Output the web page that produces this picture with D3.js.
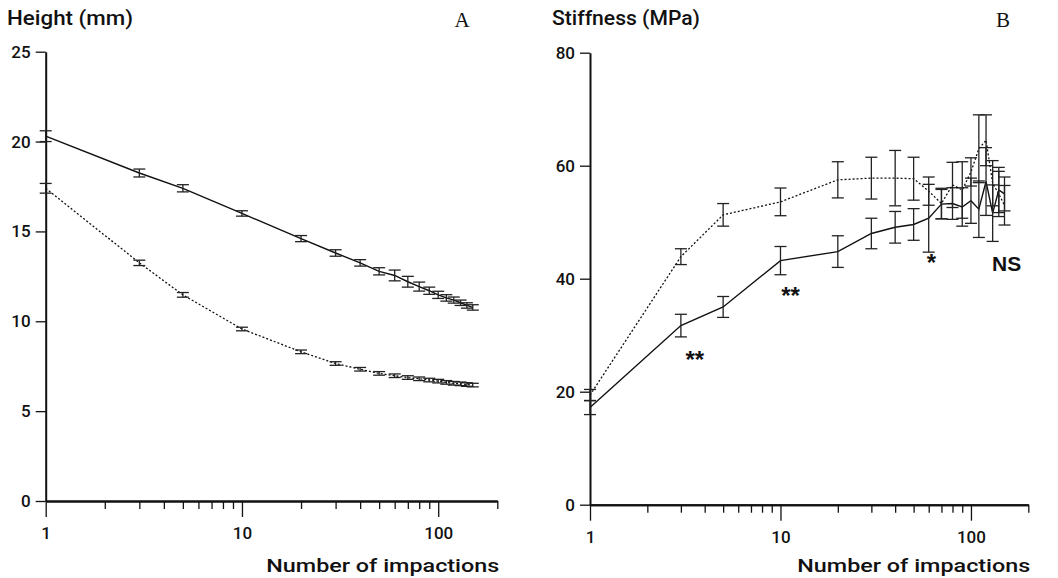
<!DOCTYPE html>
<html>
<head>
<meta charset="utf-8">
<script src="https://cdn.jsdelivr.net/npm/d3@7"></script>
<style>
  body { margin: 0; background: #fff; }
  svg { display: block; }
  text { font-family: Roboto, "Liberation Sans", Arial, sans-serif; fill: #111; }
</style>
</head>
<body>
<svg width="1058" height="578"></svg>
<script>
// impaction counts (shared by both panels)
const impactions = [1, 3, 5, 10, 20, 30, 40, 50, 60, 70, 80, 90, 100, 110, 120, 130, 140, 150];

// panel A: height (mm)
const heightSolid = [20.3, 18.25, 17.4, 16.0, 14.6, 13.8, 13.25, 12.78, 12.55, 12.2, 11.93, 11.7, 11.47, 11.3, 11.18, 11.03, 10.88, 10.77];
const heightSolidErr = [0.3, 0.22, 0.2, 0.15, 0.17, 0.18, 0.18, 0.2, 0.3, 0.3, 0.25, 0.2, 0.2, 0.18, 0.17, 0.15, 0.15, 0.15];
const heightDotted = [17.4, 13.25, 11.47, 9.57, 8.3, 7.65, 7.33, 7.1, 6.97, 6.87, 6.8, 6.73, 6.67, 6.6, 6.55, 6.52, 6.48, 6.45];
const heightDottedErr = [0.27, 0.15, 0.13, 0.1, 0.1, 0.1, 0.1, 0.1, 0.1, 0.1, 0.1, 0.1, 0.1, 0.1, 0.1, 0.1, 0.1, 0.1];

// panel B: stiffness (MPa)
const stiffSolid = [17.2, 31.7, 35.0, 43.2, 44.8, 48.0, 49.1, 49.6, 50.7, 53.2, 53.3, 52.7, 53.8, 52.3, 57.2, 51.6, 55.7, 55.0];
const stiffSolidErr = [1.25, 2.0, 1.85, 2.5, 2.8, 2.7, 2.8, 2.8, 6.0, 2.6, 2.8, 3.4, 4.0, 5.0, 6.0, 5.0, 4.0, 3.0];
const stiffDotted = [19.4, 43.9, 51.3, 53.6, 57.5, 57.8, 57.8, 57.7, 55.5, 53.3, 56.6, 55.7, 58.9, 63.0, 64.5, 56.9, 55.0, 53.0];
const stiffDottedErr = [1.0, 1.4, 2.0, 2.45, 3.2, 3.7, 4.9, 3.8, 2.5, 2.7, 4.0, 5.0, 2.5, 6.0, 4.5, 4.0, 4.0, 3.5];

const heightTicks = [0, 5, 10, 15, 20, 25];
const stiffTicks = [0, 20, 40, 60, 80];
const majorX = [1, 10, 100];
const minorX = [2, 3, 4, 5, 6, 7, 8, 9, 20, 30, 40, 50, 60, 70, 80, 90, 200];

// significance marks on panel B: [impactions, MPa, label]
const marks = [[3.55, 24.2, '**'], [11.3, 35.5, '**'], [62, 41.3, '*'], [154, 41.3, 'NS']];

const svg = d3.select('svg');

function panel(opts) {
  const x = d3.scaleLog().domain([1, 200]).range(opts.xr);
  const y = d3.scaleLinear().domain(opts.yd).range(opts.yr);
  const g = svg.append('g');

  const minor = g.append('g')
    .attr('transform', `translate(0,${opts.yr[0]})`)
    .call(d3.axisBottom(x).tickValues(minorX).tickSize(8).tickFormat('').tickSizeOuter(0));
  const major = g.append('g')
    .attr('transform', `translate(0,${opts.yr[0]})`)
    .call(d3.axisBottom(x).tickValues(majorX).tickSize(16).tickPadding(10)
      .tickFormat(d3.format('d')).tickSizeOuter(0));
  const left = g.append('g')
    .attr('transform', `translate(${opts.xr[0]},0)`)
    .call(d3.axisLeft(y).tickValues(opts.yt).tickSize(10).tickPadding(5).tickSizeOuter(0));

  [minor, major, left].forEach(a => {
    a.selectAll('.tick line').attr('stroke', '#111').attr('stroke-width', 1.3);
    a.select('.domain').attr('stroke', '#111').attr('stroke-width', 2);
    a.selectAll('text').style('font-size', '17px').style('font-weight', 500).attr('fill', '#111');
  });

  const line = d3.line().x(d => x(d[0])).y(d => y(d[1]));

  opts.series.forEach(s => {
    const pts = impactions.map((v, i) => [v, s.values[i], s.err[i]]);
    g.append('path')
      .datum(pts)
      .attr('d', line)
      .attr('fill', 'none')
      .attr('stroke', '#111')
      .attr('stroke-width', s.dotted ? 1.3 : 1.4)
      .attr('stroke-dasharray', s.dotted ? '2,2' : null);

    const bars = g.append('g').selectAll('g').data(pts).join('g')
      .attr('stroke', '#222').attr('stroke-width', 1.3);
    bars.append('line')
      .attr('x1', d => x(d[0])).attr('x2', d => x(d[0]))
      .attr('y1', d => y(d[1] - d[2])).attr('y2', d => y(d[1] + d[2]));
    bars.append('line')
      .attr('x1', d => x(d[0]) - 6).attr('x2', d => x(d[0]) + 6)
      .attr('y1', d => y(d[1] + d[2])).attr('y2', d => y(d[1] + d[2]));
    bars.append('line')
      .attr('x1', d => x(d[0]) - 6).attr('x2', d => x(d[0]) + 6)
      .attr('y1', d => y(d[1] - d[2])).attr('y2', d => y(d[1] - d[2]));
  });

  g.append('text')
    .attr('x', opts.titleX).attr('y', 25)
    .attr('textLength', opts.titleW).attr('lengthAdjust', 'spacingAndGlyphs')
    .style('font-size', '20px').style('font-weight', 500)
    .text(opts.title);

  g.append('text')
    .attr('x', opts.letterX).attr('y', 27)
    .attr('text-anchor', 'middle')
    .style('font-family', '"Liberation Serif", "Times New Roman", serif')
    .style('font-size', '21px')
    .text(opts.letter);

  g.append('text')
    .attr('x', opts.xr[1] + 2).attr('y', 572)
    .attr('text-anchor', 'end')
    .attr('textLength', 233).attr('lengthAdjust', 'spacingAndGlyphs')
    .style('font-size', '19px').style('font-weight', 500)
    .text('Number of impactions');

  return { g, x, y };
}

panel({
  xr: [45.7, 497.3], yr: [501, 51.7], yd: [0, 25], yt: heightTicks,
  title: 'Height (mm)', titleX: 7, titleW: 126, letter: 'A', letterX: 462,
  series: [
    { values: heightSolid, err: heightSolidErr, dotted: false },
    { values: heightDotted, err: heightDottedErr, dotted: true }
  ]
});

const b = panel({
  xr: [590, 1028.3], yr: [504.7, 52.7], yd: [0, 80], yt: stiffTicks,
  title: 'Stiffness (MPa)', titleX: 552, titleW: 148, letter: 'B', letterX: 1003,
  series: [
    { values: stiffSolid, err: stiffSolidErr, dotted: false },
    { values: stiffDotted, err: stiffDottedErr, dotted: true }
  ]
});

b.g.append('g').selectAll('text').data(marks).join('text')
  .attr('x', d => b.x(d[0]))
  .attr('y', d => b.y(d[1]))
  .attr('text-anchor', 'middle')
  .style('font-size', d => d[2] === 'NS' ? '21px' : '24px')
  .style('font-weight', 700)
  .style('font-family', '"Liberation Sans", Arial, sans-serif')
  .text(d => d[2]);
</script>
</body>
</html>
